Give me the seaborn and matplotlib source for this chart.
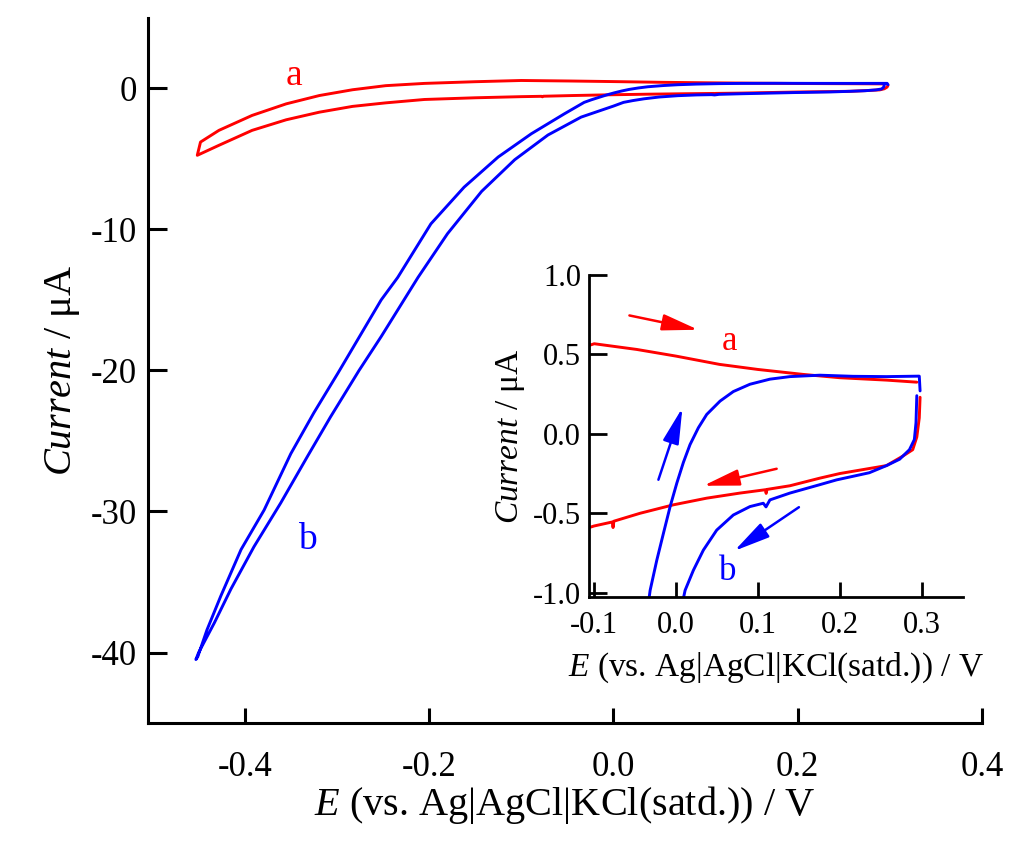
import numpy as np
import pandas as pd
import seaborn as sns
import matplotlib.pyplot as plt

# Cyclic voltammograms: a = red, b = blue
# (each list follows the scan order, starting near +0.3 V)
red_E = [0.298, 0.297, 0.294, 0.289, 0.277, 0.257, 0.2, 0.1756, 0.139, 0.111, 0.110,
         0.109, 0.078, 0.0374, -0.0033, -0.0439, -0.076, -0.077, -0.078, -0.1, -0.15,
         -0.205, -0.247, -0.283, -0.319, -0.355, -0.392, -0.428, -0.4515, -0.448,
         -0.428, -0.392, -0.355, -0.319, -0.283, -0.247, -0.205, -0.15, -0.1, -0.048,
         0.0, 0.053, 0.1, 0.155, 0.2, 0.257, 0.294]
red_I = [0.23, 0.10, -0.02, -0.10, -0.14, -0.20, -0.25, -0.279, -0.327, -0.35, -0.375,
         -0.352, -0.373, -0.405, -0.447, -0.5, -0.55, -0.59, -0.555, -0.58, -0.66,
         -0.78, -1.02, -1.27, -1.68, -2.22, -2.97, -4.03, -4.74, -3.8,
         -2.97, -1.91, -1.09, -0.5, -0.09, 0.2, 0.36, 0.48, 0.567, 0.531,
         0.489, 0.437, 0.405, 0.374, 0.353, 0.338, 0.325]

blue_E = [0.294, 0.293, 0.291, 0.285, 0.273, 0.257, 0.236, 0.196, 0.1756, 0.139,
          0.1146, 0.1098, 0.1065, 0.0902, 0.0699, 0.0496, 0.0333, 0.0211, 0.011,
          0.0, -0.035, -0.071, -0.107, -0.143, -0.18, -0.212, -0.252, -0.276,
          -0.307, -0.332, -0.361, -0.39, -0.415, -0.433, -0.45, -0.453, -0.451,
          -0.441, -0.426, -0.404, -0.379, -0.35, -0.325, -0.299, -0.252, -0.234,
          -0.198, -0.162, -0.125, -0.089, -0.053, -0.0317, -0.0236, -0.0155,
          -0.0073, 0.0009, 0.0089, 0.017, 0.0272, 0.0374, 0.0537, 0.0699, 0.0902,
          0.1146, 0.139, 0.1756, 0.216, 0.257, 0.297, 0.298]
blue_I = [0.24, 0.07, -0.036, -0.10, -0.16, -0.20, -0.245, -0.29, -0.32, -0.373,
          -0.416, -0.46, -0.437, -0.458, -0.511, -0.606, -0.732, -0.859, -0.985,
          -1.25, -2.03, -3.3, -5.05, -7.3, -10.3, -13.4, -17.6, -20.0,
          -23.3, -26.1, -29.4, -32.5, -35.5, -37.9, -40.0, -40.5, -40.3,
          -38.4, -36.0, -32.7, -29.9, -25.9, -23.0, -20.2, -15.0, -13.4,
          -9.6, -7.0, -4.86, -3.21, -1.79, -0.985, -0.796, -0.627,
          -0.458, -0.31, -0.18, -0.068, 0.038, 0.122, 0.206, 0.266, 0.312,
          0.344, 0.36, 0.369, 0.362, 0.36, 0.363, 0.27]

main_xticks = [-0.4, -0.2, 0.0, 0.2, 0.4]
main_xlabels = ["-0.4", "-0.2", "0.0", "0.2", "0.4"]
main_yticks = [0, -10, -20, -30, -40]
main_ylabels = ["0", "-10", "-20", "-30", "-40"]
ins_xticks = [-0.1, 0.0, 0.1, 0.2, 0.3]
ins_xlabels = ["-0.1", "0.0", "0.1", "0.2", "0.3"]
ins_yticks = [1.0, 0.5, 0.0, -0.5, -1.0]
ins_ylabels = ["1.0", "0.5", "0.0", "-0.5", "-1.0"]

# scan direction arrows in the inset: (tail, head)
red_arrows = [((-0.057, 0.745), (0.027, 0.655)), ((0.1228, -0.22), (0.0333, -0.327))]
blue_arrows = [((-0.0216, -0.289), (0.0077, 0.164)), ((0.150, -0.462), (0.0711, -0.737))]

red_df = pd.DataFrame({"E": red_E, "I": red_I})
blue_df = pd.DataFrame({"E": blue_E, "I": blue_I})

sns.set_style("ticks")
plt.rcParams['font.family'] = ['Liberation Serif', 'DejaVu Serif']
plt.rcParams['mathtext.fontset'] = 'custom'
plt.rcParams['mathtext.it'] = 'Liberation Serif:italic'
plt.rcParams['mathtext.rm'] = 'Liberation Serif'
plt.rcParams['axes.unicode_minus'] = False
plt.rcParams['text.color'] = 'black'
plt.rcParams['axes.labelcolor'] = 'black'

RED = "#ff0000"
BLUE = "#0000ff"
xlab = r"$\mathit{E}$ (vs. Ag|AgCl|KCl(satd.)) / V"
ylab = r"$\mathit{Current}$ / μA"

fig = plt.figure(figsize=(10.24, 8.52), dpi=100)


def draw_curves(axis):
    for df, col in [(red_df, RED), (blue_df, BLUE)]:
        sns.lineplot(data=df, x="E", y="I", sort=False, estimator=None, color=col,
                     lw=2.1, solid_joinstyle="round", solid_capstyle="round", ax=axis)


# main plot
ax = fig.add_axes([0.1445, 0.1514, 0.8145, 0.8275])
draw_curves(ax)
ax.set_xlim(-0.505, 0.40)
ax.set_ylim(-45, 5)
ax.set_xticks(main_xticks)
ax.set_xticklabels(main_xlabels)
ax.set_yticks(main_yticks)
ax.set_yticklabels(main_ylabels)
ax.tick_params(axis="both", direction="in", width=2.2, labelsize=25, colors="black")
ax.tick_params(axis="x", length=11, pad=20)
ax.tick_params(axis="y", length=14, pad=8)
for side in ["top", "right"]:
    ax.spines[side].set_visible(False)
for side in ["left", "bottom"]:
    ax.spines[side].set_linewidth(2.2)
    ax.spines[side].set_color("black")
ax.set_xlabel(xlab, fontsize=29, labelpad=0)
ax.set_ylabel(ylab, fontsize=29, labelpad=6)
ax.text(-0.347, 0.9, "a", color=RED, fontsize=27, ha="center", va="center")
ax.text(-0.332, -32.0, "b", color=BLUE, fontsize=27, ha="center", va="center")

# inset
ins = fig.add_axes([0.5755, 0.2997, 0.3646, 0.3776])
draw_curves(ins)
ins.set_xlim(-0.106, 0.35)
ins.set_ylim(-1.025, 1.0)
ins.set_xticks(ins_xticks)
ins.set_xticklabels(ins_xlabels)
ins.set_yticks(ins_yticks)
ins.set_yticklabels(ins_ylabels)
ins.tick_params(axis="both", direction="in", width=2.0, labelsize=22, colors="black")
ins.tick_params(axis="x", length=11, pad=10)
ins.tick_params(axis="y", length=13, pad=6)
ins.patch.set_alpha(0)
for side in ["top", "right"]:
    ins.spines[side].set_visible(False)
for side in ["left", "bottom"]:
    ins.spines[side].set_linewidth(2.0)
    ins.spines[side].set_color("black")
ins.set_xlabel(xlab, fontsize=24, labelpad=8)
ins.set_ylabel(ylab, fontsize=24, labelpad=4)
ins.text(0.065, 0.58, "a", color=RED, fontsize=25, ha="center", va="center")
ins.text(0.0625, -0.865, "b", color=BLUE, fontsize=25, ha="center", va="center")

for arrows, col in [(red_arrows, RED), (blue_arrows, BLUE)]:
    for tail, head in arrows:
        ins.annotate("", xy=head, xytext=tail,
                     arrowprops=dict(arrowstyle="-|>,head_length=1.1,head_width=0.25",
                                     mutation_scale=20, color=col, lw=1.8,
                                     shrinkA=0, shrinkB=0))

fig.savefig("out.png", dpi=100, facecolor="white")
